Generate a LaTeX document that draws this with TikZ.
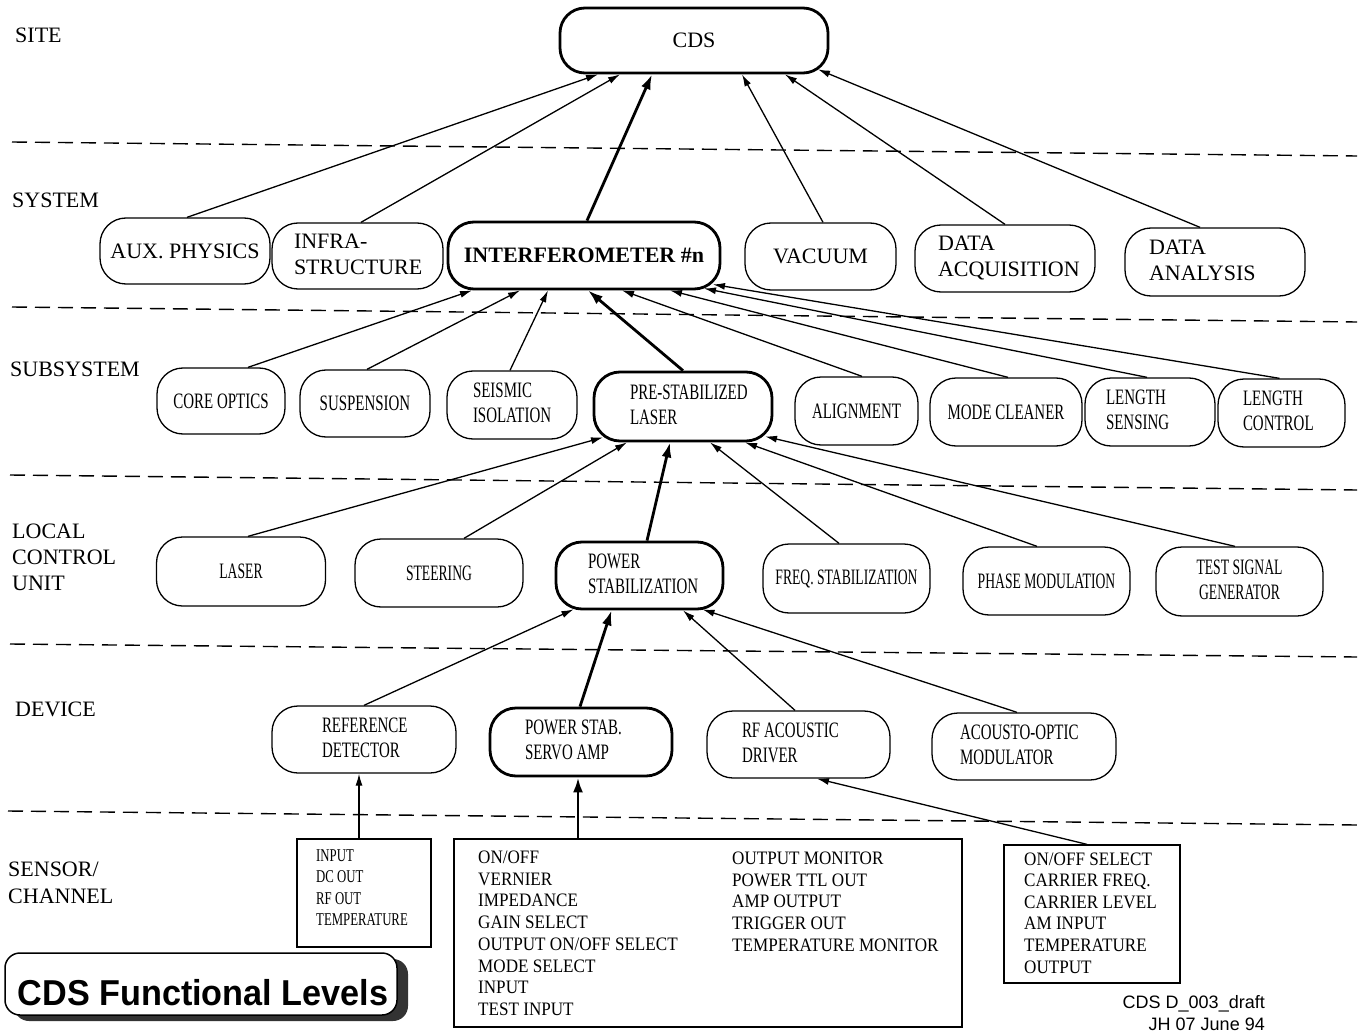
\documentclass[tikz,border=0pt]{standalone}
\usepackage{fontspec}
\setmainfont{Liberation Serif}
\newfontfamily\cndS[FakeStretch=0.68]{Liberation Serif}
\newfontfamily\cndL[FakeStretch=0.62]{Liberation Serif}
\newfontfamily\cndX[FakeStretch=0.71]{Liberation Serif}
\newfontfamily\cndB[FakeStretch=0.9]{Liberation Serif}
\newfontfamily\hvB[FakeStretch=0.95]{Liberation Sans}
\newfontfamily\hv{Liberation Sans}
\usetikzlibrary{arrows.meta,calc}
% left-aligned text block with a given left margin inside a box of given width
\newcommand{\lmbox}[3]{\makebox[#1pt][l]{\hspace*{#2pt}\raisebox{-2.5pt}{\begin{tabular}{@{}l@{}}#3\end{tabular}}}}
\begin{document}
\begin{tikzpicture}[x=1pt,y=-1pt,
 lvl/.style={anchor=base west,inner sep=0pt,font=\fontsize{22}{26}\selectfont},
 nd/.style={draw,line width=1.3pt,rounded corners=26pt,inner sep=0pt},
 thk/.style={line width=2.8pt},
 sz/.style 2 args={minimum width=#1pt,minimum height=#2pt},
 fsys/.style={font=\fontsize{22}{26}\selectfont},
 fsub/.style={font=\cndS\fontsize{22}{25}\selectfont},
 flcu/.style={font=\cndL\fontsize{22}{25}\selectfont},
 arr/.style={line width=1.3pt,-{Latex[length=12pt,width=7pt]}},
 tarr/.style={line width=2.8pt,-{Latex[length=15pt,width=10pt]}},
 lev/.style={line width=1.4pt,dash pattern=on 15pt off 8pt},
 sbox/.style={draw,line width=1.3pt,inner sep=0pt},
 tA/.style={anchor=base west,inner sep=0pt,font=\cndX\fontsize{18}{21}\selectfont},
 tB/.style={anchor=base west,inner sep=0pt,font=\cndB\fontsize{19}{22}\selectfont},
]
\useasboundingbox (0,0) rectangle (1362,1032);
\fill[white] (0,0) rectangle (1362,1032);

% level separators
\draw[lev] (12,142) -- (1357,156);
\draw[lev] (12,307) -- (1357,322);
\draw[lev] (10,475) -- (1357,490);
\draw[lev] (10,644) -- (1357,657);
\draw[lev] (8,811) -- (1357,825);

% level labels
\node[lvl] (lsite) at (15,43) {SITE};
\node[lvl] (lsys) at (12,208) {SYSTEM};
\node[lvl] (lsub) at (10,376) {SUBSYSTEM};
\node[lvl] (llcu1) at (12,538) {LOCAL};
\node[lvl] (llcu2) at (12,564) {CONTROL};
\node[lvl] (llcu3) at (12,590) {UNIT};
\node[lvl] (ldev) at (15,716) {DEVICE};
\node[lvl] (lsen1) at (8,876) {SENSOR/};
\node[lvl] (lsen2) at (8,903) {CHANNEL};

% site
\node[nd,thk,fsys,sz={268}{65},rounded corners=25pt] (cds) at (694,40.5) {CDS};

% system
\node[nd,fsys,sz={170}{66}] (aux) at (185,251) {AUX. PHYSICS};
\node[nd,fsys,sz={171}{66}] (infra) at (357.5,256) {\lmbox{171}{22}{INFRA-\\STRUCTURE}};
\node[nd,thk,fsys,sz={272}{67}] (interf) at (584,255.5) {\bfseries INTERFEROMETER \#n};
\node[nd,fsys,sz={151}{67}] (vac) at (820.5,256.5) {VACUUM};
\node[nd,fsys,sz={180}{67}] (dacq) at (1005,258.5) {\lmbox{180}{23}{DATA\\ACQUISITION}};
\node[nd,fsys,sz={180}{68}] (dana) at (1215,262) {\lmbox{180}{24}{DATA\\ANALYSIS}};

% subsystem
\node[nd,fsub,sz={128}{66}] (core) at (221,401) {CORE OPTICS};
\node[nd,fsub,sz={130}{67}] (susp) at (365,403.5) {SUSPENSION};
\node[nd,fsub,sz={130}{68}] (seis) at (512,405) {\lmbox{130}{26}{SEISMIC\\ISOLATION}};
\node[nd,thk,fsub,sz={178}{69}] (psl) at (683,406.5) {\lmbox{178}{36}{PRE-STABILIZED\\LASER}};
\node[nd,fsub,sz={123}{68}] (align) at (856.5,411) {ALIGNMENT};
\node[nd,fsub,sz={152}{68}] (mode) at (1006,412) {MODE CLEANER};
\node[nd,fsub,sz={130}{68}] (lsens) at (1150,412) {\lmbox{130}{21}{LENGTH\\SENSING}};
\node[nd,fsub,sz={127}{68}] (lctrl) at (1281.5,413) {\lmbox{127}{25}{LENGTH\\CONTROL}};

% local control unit
\node[nd,flcu,sz={169}{69}] (laser) at (241,571.5) {LASER};
\node[nd,flcu,sz={168}{68}] (steer) at (439,573) {STEERING};
\node[nd,thk,fsub,sz={167}{67}] (pstab) at (639.5,575.5) {\lmbox{167}{32}{POWER\\STABILIZATION}};
\node[nd,flcu,sz={167}{69}] (freq) at (846.5,578.5) {FREQ. STABILIZATION};
\node[nd,flcu,sz={167}{68}] (phase) at (1046.5,581) {PHASE MODULATION};
\node[nd,flcu,sz={167}{69}] (test) at (1239.5,581.5) {\raisebox{-2.5pt}{\begin{tabular}{@{}c@{}}TEST SIGNAL\\GENERATOR\end{tabular}}};

% device
\node[nd,fsub,sz={184}{67}] (refdet) at (364,739.5) {\lmbox{184}{50}{REFERENCE\\DETECTOR}};
\node[nd,thk,fsub,sz={182}{68}] (servo) at (581,742) {\lmbox{182}{35}{POWER STAB.\\SERVO AMP}};
\node[nd,fsub,sz={183}{67}] (rfad) at (798.5,744.5) {\lmbox{183}{35}{RF ACOUSTIC\\DRIVER}};
\node[nd,fsub,sz={184}{67}] (aom) at (1024,746.5) {\lmbox{184}{28}{ACOUSTO-OPTIC\\MODULATOR}};

% sensor / channel boxes
\node[sbox,sz={134}{108}] (s1) at (364,893) {};
\node[sbox,thk,sz={508}{188}] (s2) at (708,933) {};
\node[sbox,sz={176}{138}] (s3) at (1092,914) {};
\foreach \t [count=\i from 0] in {INPUT,DC OUT,RF OUT,TEMPERATURE}
  \node[tA] (s1l\i) at (316,{861+21.5*\i}) {\t};
\foreach \t [count=\i from 0] in {ON/OFF,VERNIER,IMPEDANCE,GAIN SELECT,OUTPUT ON/OFF SELECT,MODE SELECT,INPUT,TEST INPUT}
  \node[tB] (s2a\i) at (478,{863.5+21.7*\i}) {\t};
\foreach \t [count=\i from 0] in {OUTPUT MONITOR,POWER TTL OUT,AMP OUTPUT,TRIGGER OUT,TEMPERATURE MONITOR}
  \node[tB] (s2b\i) at (732,{864.5+21.7*\i}) {\t};
\foreach \t [count=\i from 0] in {ON/OFF SELECT,CARRIER FREQ.,CARRIER LEVEL,AM INPUT,TEMPERATURE,OUTPUT}
  \node[tB] (s3l\i) at (1024,{865+21.6*\i}) {\t};

% connectors: system -> site
\draw[arr] ([xshift=2pt]aux.north) -- ([xshift=-96pt]cds.south);
\draw[arr] ([xshift=3.5pt]infra.north) -- ([xshift=-74pt]cds.south);
\draw[tarr] ([xshift=3pt]interf.north) -- ([xshift=-42pt]cds.south);
\draw[arr] ([xshift=2.5pt]vac.north) -- ([xshift=48pt]cds.south);
\draw[arr] (dacq.north) -- ([xshift=91pt]cds.south);
\draw[arr] ([xshift=-15pt]dana.north) -- ([xshift=124pt,yshift=5pt]cds.south);

% subsystem -> interferometer
\draw[arr] ([xshift=27pt]core.north) -- ([xshift=-112pt]interf.south);
\draw[arr] ([xshift=2pt]susp.north) -- ([xshift=-64pt]interf.south);
\draw[arr] ([xshift=-2pt]seis.north) -- ([xshift=-36pt]interf.south);
\draw[tarr] (psl.north) -- ([xshift=4pt]interf.south);
\draw[arr] ([xshift=5.5pt]align.north) -- ([xshift=38pt]interf.south);
\draw[arr] ([xshift=2pt]mode.north) -- ([xshift=86pt]interf.south);
\draw[arr] ([xshift=-3pt]lsens.north) -- ([xshift=120pt,yshift=2pt]interf.south);
\draw[arr] ([xshift=-2pt]lctrl.north) -- ([xshift=129pt,yshift=6pt]interf.south);

% local control unit -> pre-stabilized laser
\draw[arr] ([xshift=7pt]laser.north) -- ([xshift=-80pt,yshift=5pt]psl.south);
\draw[arr] ([xshift=25pt]steer.north) -- ([xshift=-56pt]psl.south);
\draw[tarr] ([xshift=7.5pt]pstab.north) -- ([xshift=-13pt]psl.south);
\draw[arr] ([xshift=-7.5pt]freq.north) -- ([xshift=27pt]psl.south);
\draw[arr] ([xshift=-9.5pt]phase.north) -- ([xshift=62pt]psl.south);
\draw[arr] ([xshift=-4.5pt]test.north) -- ([xshift=82pt,yshift=6pt]psl.south);

% device -> power stabilization
\draw[arr] (refdet.north) -- ([xshift=-66pt,yshift=1pt]pstab.south);
\draw[tarr] ([xshift=-1pt]servo.north) -- ([xshift=-28pt]pstab.south);
\draw[arr] ([xshift=-3.5pt]rfad.north) -- ([xshift=43.5pt]pstab.south);
\draw[arr] ([xshift=-7pt]aom.north) -- ([xshift=63pt,yshift=1pt]pstab.south);

% sensor -> device
\draw[arr] ([xshift=-5pt]s1.north) -- ([xshift=-5pt]refdet.south);
\draw[tarr] ([xshift=-130pt]s2.north) -- ([xshift=-3pt]servo.south);
\draw[arr] ([xshift=-5pt]s3.north) -- ([xshift=18.5pt]rfad.south);

% title box
\fill[black!80,rounded corners=15pt] (14,959) rectangle (408,1021);
\node[draw,fill=white,line width=1.5pt,rounded corners=15pt,sz={392}{62}] (title) at (201,984) {};
\node[anchor=base,inner sep=0pt,font=\hvB\bfseries\fontsize{36}{40}\selectfont] (titletxt) at (203,1005) {CDS Functional Levels};

% document reference
\node[anchor=base east,inner sep=0pt,font=\hv\fontsize{18}{20}\selectfont] (ref1) at (1265,1008) {CDS D\_003\_draft};
\node[anchor=base east,inner sep=0pt,font=\hv\fontsize{18}{20}\selectfont] (ref2) at (1265,1030) {JH 07 June 94};
\end{tikzpicture}
\end{document}
